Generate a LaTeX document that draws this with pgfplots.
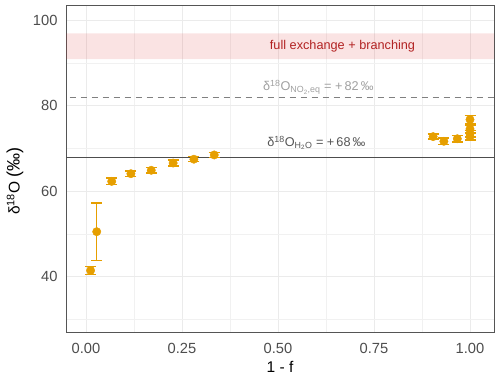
\documentclass[border=0pt]{standalone}
\usepackage{pgfplots}
\pgfplotsset{compat=1.18}
\usepackage{fontspec}
\setmainfont{Liberation Sans}
\definecolor{ptcol}{HTML}{E69F00}
\definecolor{tickcol}{HTML}{4D4D4D}
\definecolor{gridcol}{HTML}{EBEBEB}
\definecolor{bandtxt}{HTML}{B22222}
\definecolor{bandfill}{HTML}{DC2828}
\definecolor{dashcol}{HTML}{808080}
\definecolor{dashtxt}{HTML}{A0A0A0}
\definecolor{solidcol}{HTML}{4D4D4D}
\definecolor{solidtxt}{HTML}{555555}
\definecolor{bordercol}{HTML}{555555}
\begin{document}
\begin{tikzpicture}
\path[use as bounding box] (0,0) rectangle (500pt,377pt);
\begin{axis}[
  at={(66pt,44.7pt)}, anchor=south west,
  scale only axis, width=428pt, height=327pt,
  xmin=-0.052, xmax=1.0625, ymin=26.9, ymax=103.6,
  xtick={0,0.25,0.5,0.75,1},
  xticklabels={0.00,0.25,0.50,0.75,1.00},
  minor xtick={0.125,0.375,0.625,0.875},
  ytick={40,60,80,100},
  minor ytick={30,50,70,90},
  grid=both,
  major grid style={draw=gridcol, line width=0.9pt},
  minor grid style={draw=gridcol!70, line width=0.6pt},
  major tick length=0pt, minor tick length=0pt,
  axis line style={draw=bordercol, line width=1pt},
  /pgf/number format/assume math mode=true,
  ticklabel style={font=\fontsize{14.7pt}{17pt}\selectfont, text=tickcol},
  yticklabel style={xshift=-5pt},
  xticklabel style={yshift=-7pt},
  xlabel={1 - f},
  ylabel={δ\textsuperscript{18}O\ {\fontsize{18pt}{20pt}\selectfont(‰)}},
  label style={font=\fontsize{15.5pt}{18pt}\selectfont},
  xlabel style={at={(axis description cs:0.5,-0.106)}, anchor=center},
  ylabel style={at={(axis description cs:-0.119,0.463)}, anchor=center},
  clip=true,
]
% band
\addplot[draw=none, fill=bandfill, fill opacity=0.13, forget plot]
  coordinates {(-0.1,91) (1.1,91) (1.1,97) (-0.1,97) (-0.1,91)};
% reference lines
\addplot[dashcol, line width=1.1pt, dash pattern=on 6.5pt off 4.5pt, forget plot]
  coordinates {(-0.1,82) (1.1,82)};
\addplot[solidcol, line width=1.1pt, forget plot]
  coordinates {(-0.1,68) (1.1,68)};
% data
\addplot[only marks, mark=*, mark size=4.2pt, color=ptcol,
  error bars/.cd, y dir=both, y explicit,
  error bar style={line width=1.4pt, color=ptcol},
  error mark options={rotate=90, mark size=5.5pt, line width=1.4pt, color=ptcol}]
  table[x=x, y=y, y error=e] {
x y e
0.012 41.4 1.0
0.028 50.5 6.7
0.067 62.3 0.8
0.117 64.1 0.6
0.170 64.9 0.6
0.227 66.6 0.7
0.281 67.5 0.6
0.334 68.5 0.6
0.904 72.8 0.6
0.932 71.7 0.8
0.967 72.3 0.8
1.000 72.8 0.8
1.000 73.5 0.8
1.000 74.6 0.8
1.000 76.8 1.0
};
\node[text=bandtxt, font=\fontsize{12.7pt}{15pt}\selectfont] at (axis cs:0.668,94) {full exchange + branching};
\node[text=dashtxt, font=\fontsize{12.7pt}{15pt}\selectfont] at (axis cs:0.605,84.3) {δ\textsuperscript{18}O\textsubscript{NO\textsubscript{2},eq} = +\,82\,‰};
\node[text=solidtxt, font=\fontsize{12.7pt}{15pt}\selectfont] at (axis cs:0.60,71.3) {δ\textsuperscript{18}O\textsubscript{H\textsubscript{2}O} = +\,68\,‰};
\end{axis}
\end{tikzpicture}
\end{document}
